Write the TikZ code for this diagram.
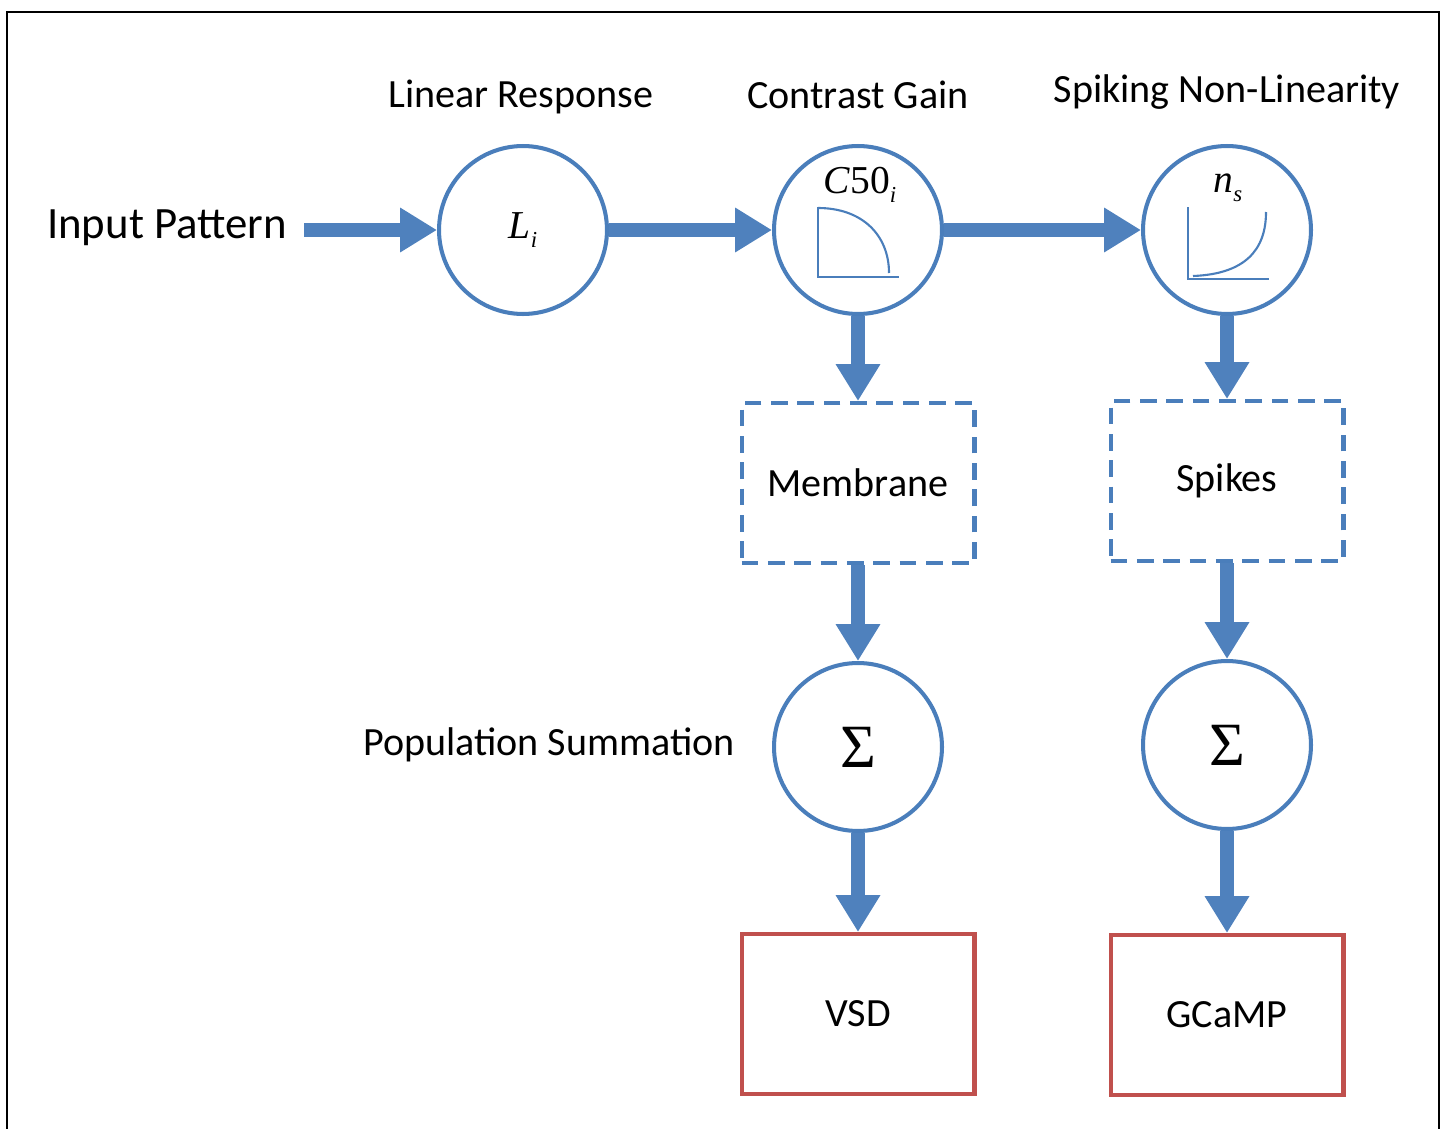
\documentclass[tikz,border=0pt]{standalone}
\usepackage{fontspec}
\setmainfont{Carlito}
\newfontfamily\tms{Liberation Serif}
\usetikzlibrary{arrows.meta,positioning}
\definecolor{lineblue}{RGB}{74,126,187}
\definecolor{arrowblue}{RGB}{79,129,189}
\definecolor{boxred}{RGB}{192,80,77}
\newcommand{\lowidx}[1]{\raisebox{-0.5ex}{\fontsize{13pt}{13pt}\selectfont #1}}

\begin{document}
\begin{tikzpicture}[x=0.02cm,y=-0.02cm,
    stage/.style={circle,draw=lineblue,line width=2.3pt,minimum size=3.36cm,inner sep=0pt},
    signal/.style={draw=lineblue,line width=2.3pt,dash pattern=on 9.5pt off 5.5pt,
      minimum width=4.66cm,minimum height=3.2cm},
    readout/.style={draw=boxred,line width=2.3pt,minimum width=4.66cm,minimum height=3.2cm},
    flow/.style={draw=arrowblue,line width=8pt,-{Triangle[length=21pt,width=24pt]}},
    curve/.style={draw=lineblue,line width=1.2pt},
    caption/.style={font=\fontsize{22.8pt}{27pt}\selectfont},
    mathlbl/.style={font=\tms\fontsize{22.5pt}{27pt}\selectfont}]
    \useasboundingbox (0,0) rectangle (1444,1129);
    \draw[line width=1.2pt] (7,1129) -- (7,12) -- (1439,12) -- (1439,1129);

    % titles
    \node[caption] (linlbl) at (521,97) {Linear Response};
    \node[caption] (gainlbl) at (858,95) {Contrast Gain};
    \node[caption] (spklbl) at (1227,92) {Spiking Non-Linearity};
    \node[caption] (sumlbl) at (549,745) {Population Summation};
    \node[font=\fontsize{25.5pt}{30pt}\selectfont] (inlbl) at (167,228) {Input Pattern};
    \coordinate (instart) at (304,230);

    % model stages
    \node[stage,mathlbl] (lin) at (523,230) {\textit{L}\lowidx{\itshape i}};
    \node[stage] (gain) at (858,230) {};
    \node[mathlbl] (gainsym) at (860,185) {\textit{C}50\lowidx{\itshape i}};
    \node[stage] (spk) at (1227,230) {};
    \node[mathlbl] (spksym) at (1228,188) {\textit{n}\lowidx{\itshape s}};

    \draw[curve] (818,207) -- (818,277) -- (899,277);
    \draw[curve] (818,208) .. controls (862,208) and (889,235) .. (889,273);
    \draw[curve] (1188,207) -- (1188,279) -- (1269,279);
    \draw[curve] (1193,276) .. controls (1245,274) and (1266,250) .. (1266,212);

    \node[signal,caption] (memb) at (858,483) {Membrane};
    \node[signal,caption] (spikes) at (1227,481) {Spikes};
    \node[stage,font=\tms\fontsize{35pt}{40pt}\selectfont] (sum1) at (858,747) {Σ};
    \node[stage,font=\tms\fontsize{35pt}{40pt}\selectfont] (sum2) at (1227,745) {Σ};
    \node[readout,caption] (vsd) at (858,1014) {VSD};
    \node[readout,caption] (gcamp) at (1227,1015) {GCaMP};

    % arrows
    \draw[flow] (instart) -- (lin);
    \draw[flow] (lin) -- (gain);
    \draw[flow] (gain) -- (spk);
    \draw[flow] (gain) -- (memb);
    \draw[flow] (spk) -- (spikes);
    \draw[flow] (memb) -- (sum1);
    \draw[flow] (spikes) -- (sum2);
    \draw[flow] (sum1) -- (vsd);
    \draw[flow] (sum2) -- (gcamp);
\end{tikzpicture}
\end{document}
